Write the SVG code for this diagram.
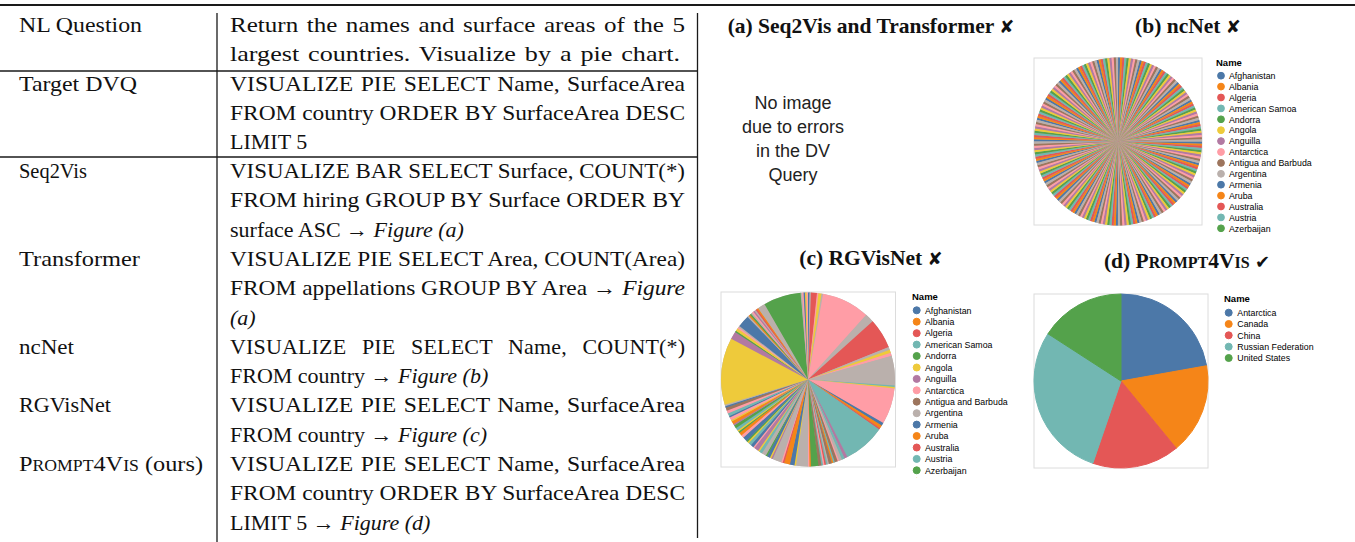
<svg xmlns="http://www.w3.org/2000/svg" width="1355" height="542" viewBox="0 0 1355 542">
<style>
.rule{stroke:#1a1a1a;stroke-width:1.3;fill:none}
.tx{font-family:"Liberation Serif",serif;font-size:22px;fill:#111}
.it{font-style:italic}
.sc{font-size:16px}
.ttl{font-family:"Liberation Serif",serif;font-size:21.5px;font-weight:bold;fill:#111;text-anchor:middle}
.sct{font-size:16px}
.mk{font-family:"DejaVu Sans",sans-serif;font-size:18px}
.note{font-family:"Liberation Sans",Arial,sans-serif;font-size:18px;fill:#222;text-anchor:middle}
.box{fill:#fff;stroke:#dcdcdc;stroke-width:1}
.lgh{font-family:"Liberation Sans",Arial,sans-serif;font-size:9.5px;font-weight:bold;fill:#000}
.lg{font-family:"Liberation Sans",Arial,sans-serif;font-size:8.8px;fill:#000}
.s{fill:none;stroke-width:87}
.n{fill:none;stroke-width:84}
.c0{fill:#4c78a8;stroke:#4c78a8}.c1{fill:#f58518;stroke:#f58518}.c2{fill:#e45756;stroke:#e45756}.c3{fill:#72b7b2;stroke:#72b7b2}.c4{fill:#54a24b;stroke:#54a24b}
.c5{fill:#eeca3b;stroke:#eeca3b}.c6{fill:#b279a2;stroke:#b279a2}.c7{fill:#ff9da6;stroke:#ff9da6}.c8{fill:#9d755d;stroke:#9d755d}.c9{fill:#bab0ac;stroke:#bab0ac}
.s.c0,.s.c1,.s.c2,.s.c3,.s.c4,.s.c5,.s.c6,.s.c7,.s.c8,.s.c9,.n.c0,.n.c1,.n.c2,.n.c3,.n.c4,.n.c5,.n.c6,.n.c7,.n.c8,.n.c9{fill:none}
</style>
<defs>
<clipPath id="clipc"><rect x="900" y="285" width="150" height="193"/></clipPath>
</defs>

<g id="table">
<line class="rule" x1="0" y1="5" x2="1355" y2="5" style="stroke-width:2"/>
<line class="rule" x1="217" y1="13" x2="217" y2="542"/>
<line class="rule" x1="697.5" y1="13" x2="697.5" y2="538"/>
<line class="rule" x1="0" y1="71" x2="697.5" y2="71"/>
<line class="rule" x1="0" y1="157" x2="697.5" y2="157"/>

<text class="tx" x="19" y="32" textLength="123" lengthAdjust="spacingAndGlyphs">NL Question</text>
<text class="tx" x="19" y="91" textLength="118" lengthAdjust="spacingAndGlyphs">Target DVQ</text>
<text class="tx" x="19" y="178" textLength="68" lengthAdjust="spacingAndGlyphs">Seq2Vis</text>
<text class="tx" x="19" y="265.9" textLength="121" lengthAdjust="spacingAndGlyphs">Transformer</text>
<text class="tx" x="19" y="353.8" textLength="55" lengthAdjust="spacingAndGlyphs">ncNet</text>
<text class="tx" x="19" y="412.4" textLength="92" lengthAdjust="spacingAndGlyphs">RGVisNet</text>
<text class="tx" x="19" y="471" textLength="184" lengthAdjust="spacingAndGlyphs">P<tspan class="sc">ROMPT</tspan>4V<tspan class="sc">IS</tspan> (ours)</text>

<text class="tx" x="230" y="32" word-spacing="2" textLength="455" lengthAdjust="spacingAndGlyphs">Return the names and surface areas of the 5</text>
<text class="tx" x="230" y="61" word-spacing="2" textLength="450" lengthAdjust="spacingAndGlyphs">largest countries. Visualize by a pie chart.</text>
<text class="tx" x="230" y="91" word-spacing="1.5" textLength="455" lengthAdjust="spacingAndGlyphs">VISUALIZE PIE SELECT Name, SurfaceArea</text>
<text class="tx" x="230" y="120" textLength="455" lengthAdjust="spacingAndGlyphs">FROM country ORDER BY SurfaceArea DESC</text>
<text class="tx" x="230" y="149">LIMIT 5</text>
<text class="tx" x="230" y="178" textLength="455" lengthAdjust="spacingAndGlyphs">VISUALIZE BAR SELECT Surface, COUNT(*)</text>
<text class="tx" x="230" y="207.3" textLength="455" lengthAdjust="spacingAndGlyphs">FROM hiring GROUP BY Surface ORDER BY</text>
<text class="tx" x="230" y="236.6">surface ASC → <tspan class="it">Figure (a)</tspan></text>
<text class="tx" x="230" y="265.9" textLength="455" lengthAdjust="spacingAndGlyphs">VISUALIZE PIE SELECT Area, COUNT(Area)</text>
<text class="tx" x="230" y="295.2" textLength="455" lengthAdjust="spacingAndGlyphs">FROM appellations GROUP BY Area → <tspan class="it">Figure</tspan></text>
<text class="tx" x="230" y="324.5"><tspan class="it">(a)</tspan></text>
<text class="tx" x="230" y="353.8" word-spacing="10" textLength="455">VISUALIZE PIE SELECT Name, COUNT(*)</text>
<text class="tx" x="230" y="383.1">FROM country → <tspan class="it">Figure (b)</tspan></text>
<text class="tx" x="230" y="412.4" word-spacing="1.5" textLength="455" lengthAdjust="spacingAndGlyphs">VISUALIZE PIE SELECT Name, SurfaceArea</text>
<text class="tx" x="230" y="441.7">FROM country → <tspan class="it">Figure (c)</tspan></text>
<text class="tx" x="230" y="471" word-spacing="1.5" textLength="455" lengthAdjust="spacingAndGlyphs">VISUALIZE PIE SELECT Name, SurfaceArea</text>
<text class="tx" x="230" y="500.3" textLength="455" lengthAdjust="spacingAndGlyphs">FROM country ORDER BY SurfaceArea DESC</text>
<text class="tx" x="230" y="529.6">LIMIT 5 → <tspan class="it">Figure (d)</tspan></text>
</g>

<g id="panel-a">
<text class="ttl" x="871" y="33">(a) Seq2Vis and Transformer <tspan class="mk">✘</tspan></text>
<text class="note" x="793" y="109">No image</text>
<text class="note" x="793" y="133">due to errors</text>
<text class="note" x="793" y="157">in the DV</text>
<text class="note" x="793" y="181">Query</text>
</g>

<g id="panel-b">
<text class="ttl" x="1188" y="33">(b) ncNet <tspan class="mk">✘</tspan></text>
<rect class="box" x="1034" y="58" width="168" height="167"/>
<g transform="translate(1118 141.5) rotate(-90)">
<circle r="84" fill="#bab0ac"/>
<circle class="n c0" r="42" pathLength="240" stroke-dasharray="1.05 8.95" stroke-dashoffset="0"/>
<circle class="n c1" r="42" pathLength="240" stroke-dasharray="1.05 8.95" stroke-dashoffset="-1"/>
<circle class="n c2" r="42" pathLength="240" stroke-dasharray="1.05 8.95" stroke-dashoffset="-2"/>
<circle class="n c3" r="42" pathLength="240" stroke-dasharray="1.05 8.95" stroke-dashoffset="-3"/>
<circle class="n c4" r="42" pathLength="240" stroke-dasharray="1.05 8.95" stroke-dashoffset="-4"/>
<circle class="n c5" r="42" pathLength="240" stroke-dasharray="1.05 8.95" stroke-dashoffset="-5"/>
<circle class="n c6" r="42" pathLength="240" stroke-dasharray="1.05 8.95" stroke-dashoffset="-6"/>
<circle class="n c7" r="42" pathLength="240" stroke-dasharray="1.05 8.95" stroke-dashoffset="-7"/>
<circle class="n c8" r="42" pathLength="240" stroke-dasharray="1.05 8.95" stroke-dashoffset="-8"/>
<circle class="n c9" r="42" pathLength="240" stroke-dasharray="1.05 8.95" stroke-dashoffset="-9"/>
</g>
<text class="lgh" x="1216" y="66">Name</text>
<g class="lg">
<circle class="c0" cx="1221" cy="75.7" r="3.4"/><text x="1229" y="78.9">Afghanistan</text>
<circle class="c1" cx="1221" cy="86.6" r="3.4"/><text x="1229" y="89.8">Albania</text>
<circle class="c2" cx="1221" cy="97.5" r="3.4"/><text x="1229" y="100.7">Algeria</text>
<circle class="c3" cx="1221" cy="108.4" r="3.4"/><text x="1229" y="111.6">American Samoa</text>
<circle class="c4" cx="1221" cy="119.3" r="3.4"/><text x="1229" y="122.5">Andorra</text>
<circle class="c5" cx="1221" cy="130.2" r="3.4"/><text x="1229" y="133.4">Angola</text>
<circle class="c6" cx="1221" cy="141.1" r="3.4"/><text x="1229" y="144.3">Anguilla</text>
<circle class="c7" cx="1221" cy="152" r="3.4"/><text x="1229" y="155.2">Antarctica</text>
<circle class="c8" cx="1221" cy="162.9" r="3.4"/><text x="1229" y="166.1">Antigua and Barbuda</text>
<circle class="c9" cx="1221" cy="173.8" r="3.4"/><text x="1229" y="177">Argentina</text>
<circle class="c0" cx="1221" cy="184.7" r="3.4"/><text x="1229" y="187.9">Armenia</text>
<circle class="c1" cx="1221" cy="195.6" r="3.4"/><text x="1229" y="198.8">Aruba</text>
<circle class="c2" cx="1221" cy="206.5" r="3.4"/><text x="1229" y="209.7">Australia</text>
<circle class="c3" cx="1221" cy="217.4" r="3.4"/><text x="1229" y="220.6">Austria</text>
<circle class="c4" cx="1221" cy="228.3" r="3.4"/><text x="1229" y="231.5">Azerbaijan</text>
</g>
</g>

<g id="panel-c">
<text class="ttl" x="871" y="265">(c) RGVisNet <tspan class="mk">✘</tspan></text>
<rect class="box" x="721" y="292" width="174.5" height="175"/>
<g transform="translate(808 379.5) rotate(-90)">
<circle r="87" fill="#bab0ac"/>
<circle class="s c0" r="43.5" pathLength="360" stroke-dasharray="1.3 360" stroke-dashoffset="0"/>
<circle class="s c9" r="43.5" pathLength="360" stroke-dasharray="1.3 360" stroke-dashoffset="-1"/>
<circle class="s c2" r="43.5" pathLength="360" stroke-dasharray="4.3 360" stroke-dashoffset="-2"/>
<circle class="s c7" r="43.5" pathLength="360" stroke-dasharray="1.3 360" stroke-dashoffset="-6"/>
<circle class="s c5" r="43.5" pathLength="360" stroke-dasharray="2.3 360" stroke-dashoffset="-7"/>
<circle class="s c9" r="43.5" pathLength="360" stroke-dasharray="1.3 360" stroke-dashoffset="-9"/>
<circle class="s c7" r="43.5" pathLength="360" stroke-dasharray="32.3 360" stroke-dashoffset="-10"/>
<circle class="s c9" r="43.5" pathLength="360" stroke-dasharray="6.3 360" stroke-dashoffset="-42"/>
<circle class="s c2" r="43.5" pathLength="360" stroke-dasharray="20.3 360" stroke-dashoffset="-48"/>
<circle class="s c9" r="43.5" pathLength="360" stroke-dasharray="2.3 360" stroke-dashoffset="-68"/>
<circle class="s c5" r="43.5" pathLength="360" stroke-dasharray="2.3 360" stroke-dashoffset="-70"/>
<circle class="s c7" r="43.5" pathLength="360" stroke-dasharray="2.3 360" stroke-dashoffset="-72"/>
<circle class="s c9" r="43.5" pathLength="360" stroke-dasharray="20.3 360" stroke-dashoffset="-74"/>
<circle class="s c3" r="43.5" pathLength="360" stroke-dasharray="1.3 360" stroke-dashoffset="-94"/>
<circle class="s c5" r="43.5" pathLength="360" stroke-dasharray="1.3 360" stroke-dashoffset="-95"/>
<circle class="s c7" r="43.5" pathLength="360" stroke-dasharray="24.3 360" stroke-dashoffset="-96"/>
<circle class="s c0" r="43.5" pathLength="360" stroke-dasharray="2.3 360" stroke-dashoffset="-120"/>
<circle class="s c1" r="43.5" pathLength="360" stroke-dasharray="2.3 360" stroke-dashoffset="-122"/>
<circle class="s c2" r="43.5" pathLength="360" stroke-dasharray="1.3 360" stroke-dashoffset="-124"/>
<circle class="s c3" r="43.5" pathLength="360" stroke-dasharray="28.3 360" stroke-dashoffset="-125"/>
<circle class="s c6" r="43.5" pathLength="360" stroke-dasharray="2.3 360" stroke-dashoffset="-153"/>
<circle class="s c3" r="43.5" pathLength="360" stroke-dasharray="2.3 360" stroke-dashoffset="-155"/>
<circle class="s c9" r="43.5" pathLength="360" stroke-dasharray="2.3 360" stroke-dashoffset="-157"/>
<circle class="s c7" r="43.5" pathLength="360" stroke-dasharray="1.3 360" stroke-dashoffset="-159"/>
<circle class="s c8" r="43.5" pathLength="360" stroke-dasharray="2.3 360" stroke-dashoffset="-160"/>
<circle class="s c3" r="43.5" pathLength="360" stroke-dasharray="1.3 360" stroke-dashoffset="-162"/>
<circle class="s c1" r="43.5" pathLength="360" stroke-dasharray="1.3 360" stroke-dashoffset="-163"/>
<circle class="s c8" r="43.5" pathLength="360" stroke-dasharray="2.3 360" stroke-dashoffset="-164"/>
<circle class="s c9" r="43.5" pathLength="360" stroke-dasharray="1.3 360" stroke-dashoffset="-166"/>
<circle class="s c3" r="43.5" pathLength="360" stroke-dasharray="1.3 360" stroke-dashoffset="-167"/>
<circle class="s c2" r="43.5" pathLength="360" stroke-dasharray="1.3 360" stroke-dashoffset="-168"/>
<circle class="s c7" r="43.5" pathLength="360" stroke-dasharray="1.3 360" stroke-dashoffset="-169"/>
<circle class="s c3" r="43.5" pathLength="360" stroke-dasharray="1.3 360" stroke-dashoffset="-170"/>
<circle class="s c8" r="43.5" pathLength="360" stroke-dasharray="2.3 360" stroke-dashoffset="-171"/>
<circle class="s c4" r="43.5" pathLength="360" stroke-dasharray="5.3 360" stroke-dashoffset="-173"/>
<circle class="s c1" r="43.5" pathLength="360" stroke-dasharray="1.3 360" stroke-dashoffset="-178"/>
<circle class="s c7" r="43.5" pathLength="360" stroke-dasharray="1.3 360" stroke-dashoffset="-179"/>
<circle class="s c9" r="43.5" pathLength="360" stroke-dasharray="8.3 360" stroke-dashoffset="-180"/>
<circle class="s c5" r="43.5" pathLength="360" stroke-dasharray="1.3 360" stroke-dashoffset="-188"/>
<circle class="s c0" r="43.5" pathLength="360" stroke-dasharray="3.3 360" stroke-dashoffset="-189"/>
<circle class="s c1" r="43.5" pathLength="360" stroke-dasharray="4.3 360" stroke-dashoffset="-192"/>
<circle class="s c2" r="43.5" pathLength="360" stroke-dasharray="1.3 360" stroke-dashoffset="-196"/>
<circle class="s c7" r="43.5" pathLength="360" stroke-dasharray="1.3 360" stroke-dashoffset="-197"/>
<circle class="s c9" r="43.5" pathLength="360" stroke-dasharray="6.3 360" stroke-dashoffset="-198"/>
<circle class="s c6" r="43.5" pathLength="360" stroke-dasharray="1.3 360" stroke-dashoffset="-204"/>
<circle class="s c5" r="43.5" pathLength="360" stroke-dasharray="1.3 360" stroke-dashoffset="-205"/>
<circle class="s c0" r="43.5" pathLength="360" stroke-dasharray="2.3 360" stroke-dashoffset="-206"/>
<circle class="s c4" r="43.5" pathLength="360" stroke-dasharray="1.3 360" stroke-dashoffset="-208"/>
<circle class="s c9" r="43.5" pathLength="360" stroke-dasharray="3.3 360" stroke-dashoffset="-209"/>
<circle class="s c3" r="43.5" pathLength="360" stroke-dasharray="2.3 360" stroke-dashoffset="-212"/>
<circle class="s c5" r="43.5" pathLength="360" stroke-dasharray="1.3 360" stroke-dashoffset="-214"/>
<circle class="s c6" r="43.5" pathLength="360" stroke-dasharray="3.3 360" stroke-dashoffset="-215"/>
<circle class="s c7" r="43.5" pathLength="360" stroke-dasharray="1.3 360" stroke-dashoffset="-218"/>
<circle class="s c0" r="43.5" pathLength="360" stroke-dasharray="2.3 360" stroke-dashoffset="-219"/>
<circle class="s c3" r="43.5" pathLength="360" stroke-dasharray="2.3 360" stroke-dashoffset="-221"/>
<circle class="s c5" r="43.5" pathLength="360" stroke-dasharray="1.3 360" stroke-dashoffset="-223"/>
<circle class="s c4" r="43.5" pathLength="360" stroke-dasharray="1.3 360" stroke-dashoffset="-224"/>
<circle class="s c0" r="43.5" pathLength="360" stroke-dasharray="3.3 360" stroke-dashoffset="-225"/>
<circle class="s c7" r="43.5" pathLength="360" stroke-dasharray="2.3 360" stroke-dashoffset="-228"/>
<circle class="s c1" r="43.5" pathLength="360" stroke-dasharray="2.3 360" stroke-dashoffset="-230"/>
<circle class="s c4" r="43.5" pathLength="360" stroke-dasharray="1.3 360" stroke-dashoffset="-232"/>
<circle class="s c5" r="43.5" pathLength="360" stroke-dasharray="1.3 360" stroke-dashoffset="-233"/>
<circle class="s c3" r="43.5" pathLength="360" stroke-dasharray="2.3 360" stroke-dashoffset="-234"/>
<circle class="s c4" r="43.5" pathLength="360" stroke-dasharray="2.3 360" stroke-dashoffset="-236"/>
<circle class="s c6" r="43.5" pathLength="360" stroke-dasharray="1.3 360" stroke-dashoffset="-238"/>
<circle class="s c1" r="43.5" pathLength="360" stroke-dasharray="2.3 360" stroke-dashoffset="-239"/>
<circle class="s c5" r="43.5" pathLength="360" stroke-dasharray="1.3 360" stroke-dashoffset="-241"/>
<circle class="s c7" r="43.5" pathLength="360" stroke-dasharray="2.3 360" stroke-dashoffset="-242"/>
<circle class="s c0" r="43.5" pathLength="360" stroke-dasharray="1.3 360" stroke-dashoffset="-244"/>
<circle class="s c3" r="43.5" pathLength="360" stroke-dasharray="2.3 360" stroke-dashoffset="-245"/>
<circle class="s c7" r="43.5" pathLength="360" stroke-dasharray="2.3 360" stroke-dashoffset="-247"/>
<circle class="s c8" r="43.5" pathLength="360" stroke-dasharray="2.3 360" stroke-dashoffset="-249"/>
<circle class="s c0" r="43.5" pathLength="360" stroke-dasharray="1.3 360" stroke-dashoffset="-251"/>
<circle class="s c9" r="43.5" pathLength="360" stroke-dasharray="1.3 360" stroke-dashoffset="-252"/>
<circle class="s c5" r="43.5" pathLength="360" stroke-dasharray="45.3 360" stroke-dashoffset="-253"/>
<circle class="s c6" r="43.5" pathLength="360" stroke-dasharray="5.3 360" stroke-dashoffset="-298"/>
<circle class="s c4" r="43.5" pathLength="360" stroke-dasharray="1.3 360" stroke-dashoffset="-303"/>
<circle class="s c5" r="43.5" pathLength="360" stroke-dasharray="2.3 360" stroke-dashoffset="-304"/>
<circle class="s c7" r="43.5" pathLength="360" stroke-dasharray="1.3 360" stroke-dashoffset="-306"/>
<circle class="s c9" r="43.5" pathLength="360" stroke-dasharray="1.3 360" stroke-dashoffset="-307"/>
<circle class="s c0" r="43.5" pathLength="360" stroke-dasharray="8.3 360" stroke-dashoffset="-308"/>
<circle class="s c9" r="43.5" pathLength="360" stroke-dasharray="1.3 360" stroke-dashoffset="-316"/>
<circle class="s c1" r="43.5" pathLength="360" stroke-dasharray="1.3 360" stroke-dashoffset="-317"/>
<circle class="s c4" r="43.5" pathLength="360" stroke-dasharray="1.3 360" stroke-dashoffset="-318"/>
<circle class="s c9" r="43.5" pathLength="360" stroke-dasharray="1.3 360" stroke-dashoffset="-319"/>
<circle class="s c7" r="43.5" pathLength="360" stroke-dasharray="1.3 360" stroke-dashoffset="-320"/>
<circle class="s c6" r="43.5" pathLength="360" stroke-dasharray="1.3 360" stroke-dashoffset="-321"/>
<circle class="s c9" r="43.5" pathLength="360" stroke-dasharray="1.3 360" stroke-dashoffset="-322"/>
<circle class="s c2" r="43.5" pathLength="360" stroke-dasharray="1.3 360" stroke-dashoffset="-323"/>
<circle class="s c1" r="43.5" pathLength="360" stroke-dasharray="1.3 360" stroke-dashoffset="-324"/>
<circle class="s c9" r="43.5" pathLength="360" stroke-dasharray="5.3 360" stroke-dashoffset="-325"/>
<circle class="s c4" r="43.5" pathLength="360" stroke-dasharray="25.3 360" stroke-dashoffset="-330"/>
<circle class="s c9" r="43.5" pathLength="360" stroke-dasharray="1.3 360" stroke-dashoffset="-355"/>
<circle class="s c7" r="43.5" pathLength="360" stroke-dasharray="1.3 360" stroke-dashoffset="-356"/>
<circle class="s c0" r="43.5" pathLength="360" stroke-dasharray="1.3 360" stroke-dashoffset="-357"/>
<circle class="s c5" r="43.5" pathLength="360" stroke-dasharray="1.3 360" stroke-dashoffset="-358"/>
<circle class="s c7" r="43.5" pathLength="360" stroke-dasharray="1 360" stroke-dashoffset="-359"/>
</g>
<text class="lgh" x="912" y="299.5">Name</text>
<g class="lg" clip-path="url(#clipc)">
<circle class="c0" cx="916.7" cy="310.3" r="3.5"/><text x="925" y="313.5">Afghanistan</text>
<circle class="c1" cx="916.7" cy="321.7" r="3.5"/><text x="925" y="324.9">Albania</text>
<circle class="c2" cx="916.7" cy="333.2" r="3.5"/><text x="925" y="336.4">Algeria</text>
<circle class="c3" cx="916.7" cy="344.6" r="3.5"/><text x="925" y="347.8">American Samoa</text>
<circle class="c4" cx="916.7" cy="356" r="3.5"/><text x="925" y="359.2">Andorra</text>
<circle class="c5" cx="916.7" cy="367.5" r="3.5"/><text x="925" y="370.7">Angola</text>
<circle class="c6" cx="916.7" cy="378.9" r="3.5"/><text x="925" y="382.1">Anguilla</text>
<circle class="c7" cx="916.7" cy="390.3" r="3.5"/><text x="925" y="393.5">Antarctica</text>
<circle class="c8" cx="916.7" cy="401.7" r="3.5"/><text x="925" y="404.9">Antigua and Barbuda</text>
<circle class="c9" cx="916.7" cy="413.2" r="3.5"/><text x="925" y="416.4">Argentina</text>
<circle class="c0" cx="916.7" cy="424.6" r="3.5"/><text x="925" y="427.8">Armenia</text>
<circle class="c1" cx="916.7" cy="436" r="3.5"/><text x="925" y="439.2">Aruba</text>
<circle class="c2" cx="916.7" cy="447.5" r="3.5"/><text x="925" y="450.7">Australia</text>
<circle class="c3" cx="916.7" cy="458.9" r="3.5"/><text x="925" y="462.1">Austria</text>
<circle class="c4" cx="916.7" cy="470.3" r="3.5"/><text x="925" y="473.5">Azerbaijan</text>
<circle class="c5" cx="916.7" cy="481.7" r="3.5"/>
</g>
</g>

<g id="panel-d">
<text class="ttl" x="1187" y="268">(d) P<tspan class="sct">ROMPT</tspan>4V<tspan class="sct">IS</tspan> <tspan class="mk">✔</tspan></text>
<rect class="box" x="1034" y="294" width="174" height="174"/>
<path class="c0" d="M1121 381 L1121 294 A87 87 0 0 1 1206.65 365.74 Z"/>
<path class="c1" d="M1121 381 L1206.65 365.74 A87 87 0 0 1 1176.22 448.22 Z"/>
<path class="c2" d="M1121 381 L1176.22 448.22 A87 87 0 0 1 1092.82 463.31 Z"/>
<path class="c3" d="M1121 381 L1092.82 463.31 A87 87 0 0 1 1047.95 333.74 Z"/>
<path class="c4" d="M1121 381 L1047.95 333.74 A87 87 0 0 1 1121 294 Z"/>
<text class="lgh" x="1224" y="302">Name</text>
<g class="lg">
<circle class="c0" cx="1228.7" cy="312.7" r="3.5"/><text x="1237.3" y="315.9">Antarctica</text>
<circle class="c1" cx="1228.7" cy="324" r="3.5"/><text x="1237.3" y="327.2">Canada</text>
<circle class="c2" cx="1228.7" cy="335.3" r="3.5"/><text x="1237.3" y="338.5">China</text>
<circle class="c3" cx="1228.7" cy="346.7" r="3.5"/><text x="1237.3" y="349.9">Russian Federation</text>
<circle class="c4" cx="1228.7" cy="358" r="3.5"/><text x="1237.3" y="361.2">United States</text>
</g>
</g>
</svg>
